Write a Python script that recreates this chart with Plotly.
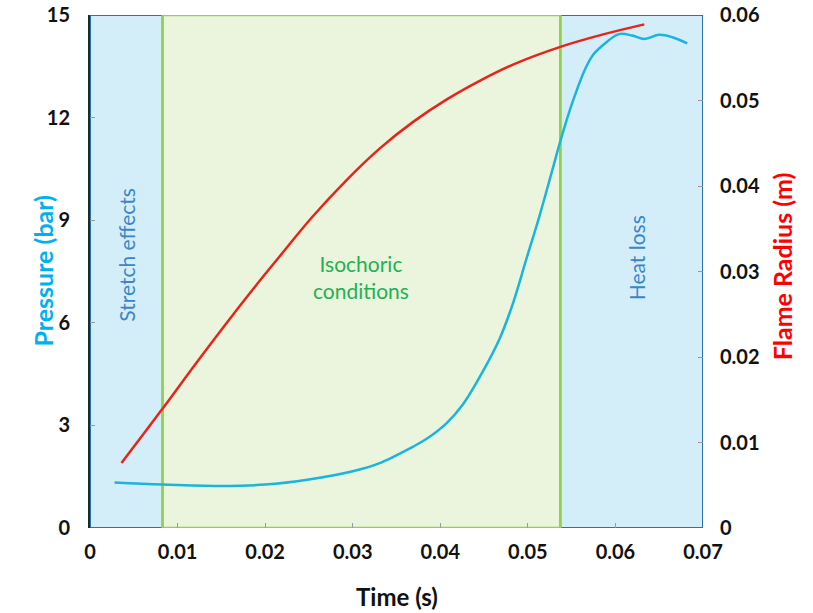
import plotly.graph_objects as go

# Data
pressure_t = [0.0028, 0.0083, 0.0150, 0.0200, 0.0250, 0.0300, 0.0330, 0.0369, 0.0384, 0.0407,
              0.0426, 0.0448, 0.0468, 0.0483, 0.0498, 0.0513, 0.0528, 0.0538, 0.0551, 0.0566,
              0.0575, 0.0585, 0.0604, 0.0619, 0.0633, 0.0650, 0.0665, 0.0682]
pressure_bar = [1.33, 1.27, 1.23, 1.27, 1.42, 1.66, 1.89, 2.38, 2.60, 3.06,
                3.62, 4.55, 5.55, 6.57, 7.84, 9.10, 10.47, 11.39, 12.45, 13.45,
                13.85, 14.10, 14.44, 14.40, 14.30, 14.42, 14.35, 14.17]

radius_t = [0.0036, 0.0081, 0.0125, 0.0182, 0.0216, 0.0254, 0.0293, 0.0331, 0.0369, 0.0407,
            0.0445, 0.0483, 0.0538, 0.0585, 0.0633]
radius_m = [0.0076, 0.0137, 0.0198, 0.0274, 0.0317, 0.0364, 0.0407, 0.0444, 0.0475, 0.0501,
            0.0523, 0.0542, 0.0563, 0.0577, 0.0589]

regions = [  # (start, end, label)
    (0.0, 0.0083, "Stretch effects"),
    (0.0083, 0.0537, "Isochoric<br>conditions"),
    (0.0537, 0.07, "Heat loss"),
]

x_ticks = [0, 0.01, 0.02, 0.03, 0.04, 0.05, 0.06, 0.07]
y_ticks = [0, 3, 6, 9, 12, 15]
y2_ticks = [0, 0.01, 0.02, 0.03, 0.04, 0.05, 0.06]

FONT = "Lato, Open Sans, sans-serif"
BLUE_FILL = "#d4eef9"
BLUE_LINE = "#2477a8"
GREEN_FILL = "#ebf5dd"
GREEN_LINE = "#92d050"

fig = go.Figure()
fig.add_trace(go.Scatter(x=pressure_t, y=pressure_bar, mode="lines",
                         line=dict(color="#1ab4dc", width=2.5, shape="spline", smoothing=1.0),
                         showlegend=False, yaxis="y", hoverinfo="skip"))
fig.add_trace(go.Scatter(x=radius_t, y=radius_m, mode="lines",
                         line=dict(color="#e5251b", width=2.5, shape="spline", smoothing=1.0),
                         showlegend=False, yaxis="y2", hoverinfo="skip"))

shapes = []
# blue regions first, then green on top
for (s, e, lab) in [regions[0], regions[2], regions[1]]:
    is_green = lab.startswith("Isochoric")
    shapes.append(dict(type="rect", xref="x", yref="y", x0=s, x1=e, y0=0, y1=15, layer="below",
                       fillcolor=GREEN_FILL if is_green else BLUE_FILL,
                       line=dict(color=GREEN_LINE if is_green else BLUE_LINE, width=2.5 if is_green else 2)))

annotations = [
    dict(x=(regions[0][0] + regions[0][1]) / 2, y=8.0, xref="x", yref="y", text=regions[0][2], textangle=-90,
         showarrow=False, font=dict(family=FONT, size=21, color="#3a86c8")),
    dict(x=0.0310, y=7.35, xref="x", yref="y", text=regions[1][2], showarrow=False,
         font=dict(family=FONT, size=21, color="#22b152")),
    dict(x=0.0624, y=7.9, xref="x", yref="y", text=regions[2][2], textangle=-90,
         showarrow=False, font=dict(family=FONT, size=21, color="#3a86c8")),
    dict(x=-0.106, y=0.5, xref="paper", yref="paper", text="<b>Pressure (bar)</b>", textangle=-90,
         showarrow=False, font=dict(family=FONT, size=25, color="#00b0f0")),
    dict(x=1.158, y=0.51, xref="paper", yref="paper", text="<b>Flame Radius (m)</b>", textangle=-90,
         showarrow=False, font=dict(family=FONT, size=25, color="#ff0000")),
    dict(x=0.5, y=-0.1326, xref="paper", yref="paper", text="<b>Time (s)</b>", showarrow=False,
         font=dict(family=FONT, size=24, color="#111111"), yanchor="middle"),
]

tickfont = dict(family=FONT, size=20, color="#111111", weight="bold")

fig.update_layout(
    width=813, height=613,
    margin=dict(l=90, r=110, t=15, b=85),
    paper_bgcolor="white", plot_bgcolor="white",
    shapes=shapes, annotations=annotations,
    xaxis=dict(range=[0, 0.07], tickvals=x_ticks, ticktext=[("0" if v == 0 else f"{v:.2f}") for v in x_ticks],
               showgrid=False, zeroline=False, showline=False, ticks="inside", ticklen=5, tickcolor="#999999",
               tickfont=tickfont, ticklabelstandoff=10, automargin=False, ticklabeloverflow="allow"),
    yaxis=dict(range=[0, 15], tickvals=y_ticks, showgrid=False, zeroline=False, showline=True, linecolor="#1a2a33",
               linewidth=2, ticks="inside", ticklen=5, tickcolor="#999999",
               tickfont=tickfont, ticklabelstandoff=14, automargin=False, ticklabeloverflow="allow"),
    yaxis2=dict(range=[0, 0.06], tickvals=y2_ticks, ticktext=[("0" if v == 0 else f"{v:.2f}") for v in y2_ticks],
                overlaying="y", side="right", showgrid=False, zeroline=False, showline=False,
                ticks="inside", ticklen=5, tickcolor="#999999",
                tickfont=tickfont, ticklabelstandoff=16, automargin=False, ticklabeloverflow="allow"),
)

fig.write_html("out.html", config={"displayModeBar": False},
               post_script="document.body.style.margin='0';")
